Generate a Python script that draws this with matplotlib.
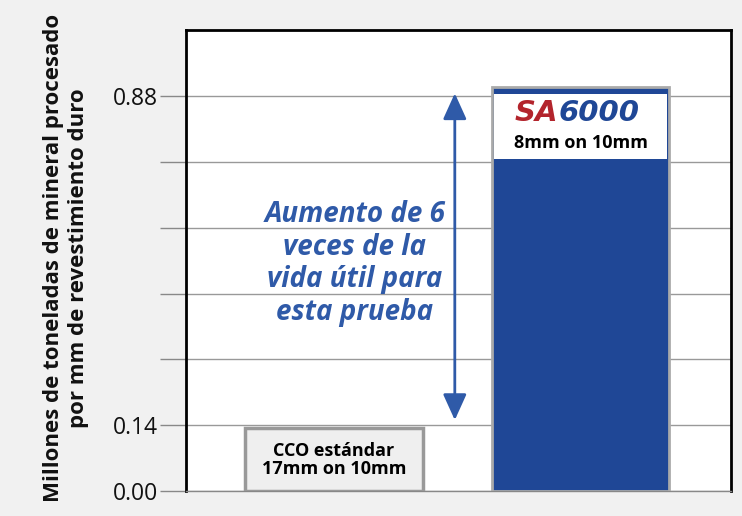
import matplotlib
matplotlib.use("Agg")
import matplotlib.pyplot as plt
from matplotlib.patches import Rectangle

# data
categories = ["CCO estándar", "SA6000"]
values = [0.14, 0.90]
bar_notes = ["CCO estándar\n17mm on 10mm", "8mm on 10mm"]
tick_values = [0.0, 0.88 / 6, 2 * 0.88 / 6, 3 * 0.88 / 6, 4 * 0.88 / 6, 5 * 0.88 / 6, 0.88]
tick_labels = ["0.00", "0.14", "", "", "", "", "0.88"]
arrow_span = (0.158, 0.886)
arrow_text = "Aumento de 6\nveces de la\nvida útil para\nesta prueba"
ylabel = "Millones de toneladas de mineral procesado\npor mm de revestimiento duro"

BLUE = "#1f4796"
ARROW_BLUE = "#2f5aa8"

fig = plt.figure(figsize=(7.42, 5.16), dpi=100)
fig.patch.set_facecolor("#f1f1f1")
ax = fig.add_axes([186 / 742, 25 / 516, 545 / 742, 461 / 516])
ax.set_facecolor("white")

ax.set_xlim(-0.60, 1.61)
ax.set_ylim(0, 0.88 * 461 / 395)

ax.set_yticks(tick_values)
ax.set_yticklabels(tick_labels, fontsize=16.5, color="#111111", family="Open Sans")
ax.tick_params(axis="y", length=19, width=1, color="#888888", pad=1)
ax.set_xticks([])
ax.yaxis.grid(True, color="#999999", linewidth=1)
ax.set_axisbelow(True)

for side in ["top", "left", "right"]:
    ax.spines[side].set_linewidth(2)
    ax.spines[side].set_color("black")
ax.spines["bottom"].set_color("#888888")
ax.spines["bottom"].set_linewidth(1)

ax.set_ylabel(ylabel, fontsize=16, fontweight="bold", family="Open Sans",
              color="#111111", linespacing=1.25)
ax.yaxis.set_label_coords(-0.178, 0.505)

x = [0, 1]
width = 0.72
ax.bar(x[0], values[0], width=width, color="#efefef", edgecolor="#999999",
       linewidth=2.5, zorder=3)
ax.bar(x[1], values[1], width=width, color=BLUE, edgecolor="#aaaaaa",
       linewidth=2, zorder=3)

# label boxes
ax.text(x[0], values[0] / 2, bar_notes[0], ha="center", va="center",
        fontsize=13, fontweight="bold", family="Open Sans", linespacing=1.0, zorder=5)

box_top = values[1] - 0.016
box_bot = values[1] - 0.16
ax.add_patch(Rectangle((x[1] - width / 2 + 0.01, box_bot), width - 0.02, box_top - box_bot,
                       facecolor="white", edgecolor="none", zorder=4))
ax.text(x[1] - 0.09, box_top - 0.042, "SA", ha="right", va="center", fontsize=21,
        fontstyle="italic", fontweight="bold", color="#b3242c", family="DejaVu Sans", zorder=5)
ax.text(x[1] - 0.09, box_top - 0.042, "6000", ha="left", va="center", fontsize=21,
        fontstyle="italic", fontweight="bold", color=BLUE, family="DejaVu Sans", zorder=5)
ax.text(x[1], box_top - 0.109, bar_notes[1], ha="center", va="center",
        fontsize=13, fontweight="bold", family="Open Sans", zorder=5)

# double arrow
ax.annotate("", xy=(0.49, arrow_span[1]), xytext=(0.49, arrow_span[0]),
            arrowprops=dict(arrowstyle="<|-|>,head_length=0.53,head_width=0.24",
                            color=ARROW_BLUE, lw=2, mutation_scale=30,
                            shrinkA=0, shrinkB=0), zorder=5)
ax.text(0.085, 0.507, arrow_text, ha="center", va="center", fontsize=20,
        fontstyle="italic", fontweight="bold", color=ARROW_BLUE,
        family="Open Sans", linespacing=1.17, zorder=5)

fig.savefig("out.png", dpi=100, facecolor=fig.get_facecolor())
